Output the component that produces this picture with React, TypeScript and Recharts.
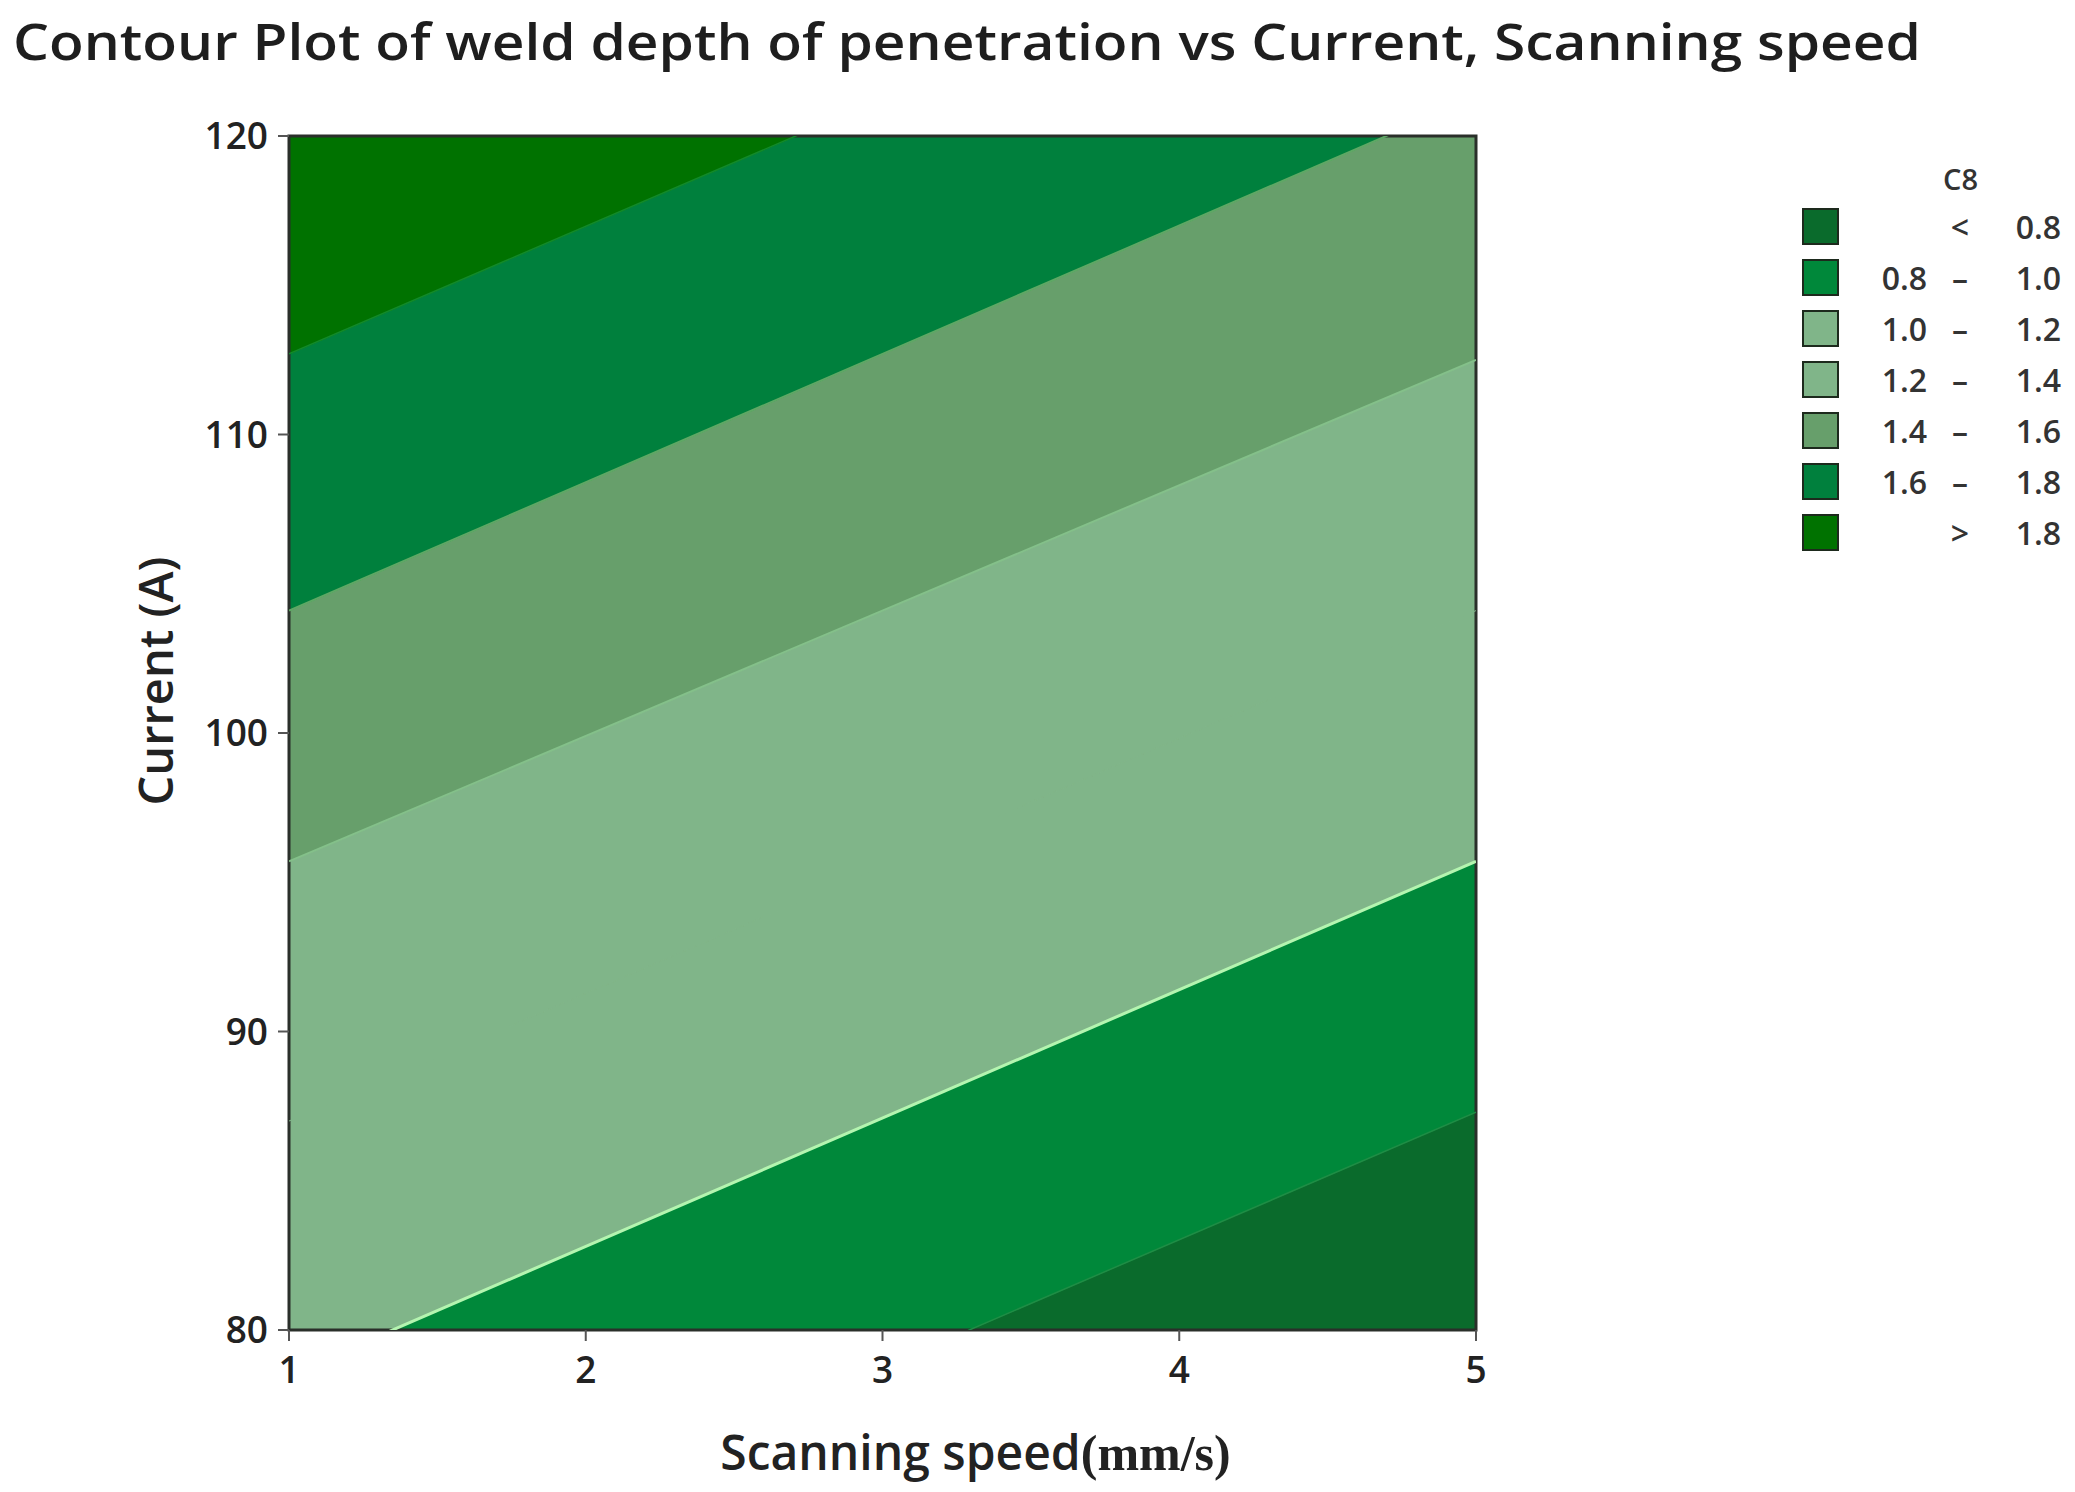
import React from "react";
import {
  ComposedChart,
  Area,
  Line,
  XAxis,
  YAxis,
  ReferenceArea,
} from "recharts";

// contour boundaries: current (A) at scanning speed 1 and 5, one per level
const speeds = [1, 5];
const levels = [0.8, 1.0, 1.2, 1.4, 1.6, 1.8];
const boundaryAtSpeed1 = [70.2, 78.5, 87.0, 95.7, 104.1, 112.7];
const boundaryAtSpeed5 = [87.3, 95.7, 104.1, 112.5, 121.3, 129.8];
const floorCurrent = 40;
const ceilCurrent = 170;

const xTicks = [1, 2, 3, 4, 5];
const yTicks = [80, 90, 100, 110, 120];

// band colours, lowest band (< 0.8) first
const bandColors = [
  "#0a6b2c",
  "#00883a",
  "#80b589",
  "#80b589",
  "#679f6b",
  "#00803d",
  "#007200",
];
const boundaryStrokes = [
  "#1f8d45",
  "#b4f5b0",
  "#80b589",
  "#84c08a",
  "#5fa865",
  "#128a2a",
];
const boundaryWidths = [1.5, 3, 1, 2, 2, 1.5];

const rows = speeds.map((s, i) => {
  const b = i === 0 ? boundaryAtSpeed1 : boundaryAtSpeed5;
  const row: Record<string, any> = { speed: s };
  b.forEach((v, k) => {
    row["line" + k] = v;
  });
  for (let k = 0; k <= levels.length; k++) {
    const low = k === 0 ? floorCurrent : b[k - 1];
    const high = k === levels.length ? ceilCurrent : b[k];
    row["band" + k] = [low, high];
  }
  return row;
});

const legendRows = bandColors.map((c, k) => {
  if (k === 0) return { color: c, a: "", sep: "<", b: levels[0].toFixed(1) };
  if (k === levels.length)
    return { color: c, a: "", sep: ">", b: levels[k - 1].toFixed(1) };
  return {
    color: c,
    a: levels[k - 1].toFixed(1),
    sep: "–",
    b: levels[k].toFixed(1),
  };
});

const FONT = "'Open Sans', 'Noto Sans', sans-serif";

function ContourLegend() {
  return (
    <div
      style={{
        position: "absolute",
        left: 1790,
        top: 157,
        width: 285,
        fontFamily: FONT,
        color: "#333",
        fontSize: 32,
        fontWeight: 600,
      }}
    >
      <div style={{ paddingLeft: 153, height: 44, lineHeight: "44px", fontSize: 29 }}>
        C8
      </div>
      {legendRows.map((r, i) => (
        <div key={i} style={{ display: "flex", alignItems: "center", height: 51 }}>
          <div
            style={{
              width: 33,
              height: 33,
              marginLeft: 12,
              background: r.color,
              border: "2px solid #1d2a1d",
            }}
          />
          <div style={{ width: 88, textAlign: "right" }}>{r.a}</div>
          <div style={{ width: 66, textAlign: "center" }}>{r.sep}</div>
          <div style={{ width: 68, textAlign: "right" }}>{r.b}</div>
        </div>
      ))}
    </div>
  );
}

export default function App() {
  return (
    <div style={{ position: "absolute", left: 0, top: 0, width: 2075, height: 1492, background: "#fff" }}>
      <svg
        width={2075}
        height={100}
        style={{ position: "absolute", left: 0, top: 0, pointerEvents: "none" }}
      >
        <text
          x={13}
          y={60}
          fontFamily={FONT}
          fontSize={50}
          fontWeight={600}
          fill="#1e1e1e"
          textLength={1908}
          lengthAdjust="spacingAndGlyphs"
        >
          Contour Plot of weld depth of penetration vs Current, Scanning speed
        </text>
      </svg>
      <ComposedChart
        width={2075}
        height={1492}
        data={rows}
        margin={{ top: 136, right: 599, bottom: 62, left: 169 }}
      >
        <XAxis
          dataKey="speed"
          type="number"
          domain={[1, 5]}
          ticks={xTicks}
          allowDataOverflow
          height={100}
          axisLine={false}
          tickSize={11}
          tickMargin={16}
          tickLine={{ stroke: "#555", strokeWidth: 2 }}
          tick={{ fontFamily: FONT, fontSize: 37, fontWeight: 600, fill: "#222" }}
          label={{
            content: ({ viewBox }: any) => (
              <text
                x={viewBox.x + viewBox.width / 2 + 93}
                y={viewBox.y + 140}
                textAnchor="middle"
                fontFamily={FONT}
                fontSize={48}
                fontWeight={600}
                fill="#222"
              >
                Scanning speed
                <tspan fontFamily="'Liberation Serif', serif" fontWeight={700} fontSize={50}>
                  (mm/s)
                </tspan>
              </text>
            ),
          }}
        />
        <YAxis
          type="number"
          domain={[80, 120]}
          ticks={yTicks}
          allowDataOverflow
          width={120}
          axisLine={false}
          tickSize={11}
          tickMargin={10}
          tickLine={{ stroke: "#555", strokeWidth: 2 }}
          tick={{ fontFamily: FONT, fontSize: 37, fontWeight: 600, fill: "#222" }}
          label={{
            content: ({ viewBox }: any) => {
              const cx = viewBox.x - 14;
              const cy = viewBox.y + viewBox.height / 2 - 52;
              return (
                <text
                  x={cx}
                  y={cy}
                  transform={`rotate(-90 ${cx} ${cy})`}
                  textAnchor="middle"
                  dominantBaseline="central"
                  fontFamily={FONT}
                  fontSize={47}
                  fontWeight={600}
                  fill="#222"
                >
                  Current (A)
                </text>
              );
            },
          }}
        />
        {bandColors.map((c, k) => (
          <Area
            key={"band" + k}
            dataKey={"band" + k}
            type="linear"
            fill={c}
            fillOpacity={1}
            stroke={c}
            strokeWidth={1}
            isAnimationActive={false}
            dot={false}
            activeDot={false}
          />
        ))}
        {levels.map((_, k) => (
          <Line
            key={"line" + k}
            dataKey={"line" + k}
            type="linear"
            stroke={boundaryStrokes[k]}
            strokeWidth={boundaryWidths[k]}
            dot={false}
            activeDot={false}
            isAnimationActive={false}
          />
        ))}
        <ReferenceArea
          x1={1}
          x2={5}
          y1={80}
          y2={120}
          fill="none"
          fillOpacity={0}
          stroke="#2a2f2a"
          strokeWidth={3}
          ifOverflow="visible"
        />
      </ComposedChart>
      <ContourLegend />
    </div>
  );
}
